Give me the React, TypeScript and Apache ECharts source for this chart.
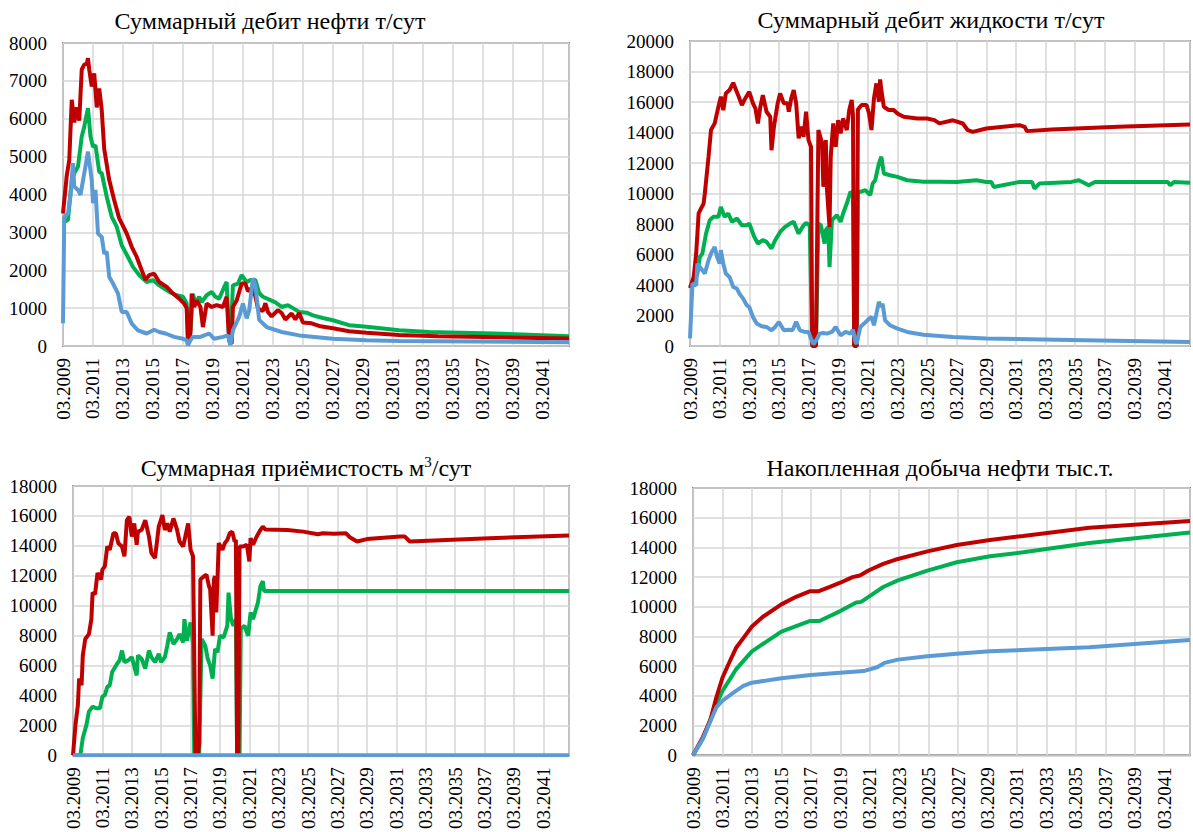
import React, { useEffect, useRef } from "react";
import * as echarts from "echarts";

// x = months since 03.2009 (monthly data up to 12.2042)
const X_MAX = 405;
const X_STEP = 24;

// ---------- Panel 1: Суммарный дебит нефти т/сут ----------
const oilRateRed: [number, number][] = [
  [0,3500],[3,4500],[5,4900],[7,6500],[9,5900],[11,6300],[13,5950],[15,7300],[17,7430],[19,7450],[20,7600],[21,7300],[23,6850],[25,7200],[27,6300],[29,6800],[31,6230],[33,5200],[37,4380],[41,3850],[45,3370],[51,2970],[55,2620],[59,2350],[63,2000],[66,1750],[69,1870],[73,1910],[77,1690],[83,1560],[88,1385],[93,1250],[97,1120],[99,1000],[100,150],[102,330],[103,1385],[105,1030],[107,1200],[110,1030],[112,500],[115,1120],[119,1030],[123,1080],[128,1030],[131,1300],[133,150],[135,60],[136,1030],[139,1200],[143,1650],[146,1650],[148,1450],[150,1500],[152,1550],[154,1300],[156,1000],[158,950],[160,930],[162,1130],[164,900],[167,780],[172,950],[175,870],[178,700],[183,860],[186,700],[189,870],[192,620],[199,600],[206,520],[216,470],[229,390],[243,350],[269,290],[300,260],[350,230],[405,200]
];
const oilRateGreen: [number, number][] = [
  [0,3250],[4,3330],[7,4380],[9,4560],[12,4740],[15,5530],[17,5790],[20,6280],[22,5530],[24,5260],[26,5300],[29,4600],[31,4560],[35,3940],[39,3410],[43,3150],[47,2660],[52,2350],[56,2090],[61,1870],[67,1690],[72,1740],[77,1600],[85,1430],[91,1340],[96,1300],[99,1120],[100,150],[102,400],[104,1370],[106,1120],[109,1300],[111,1160],[115,1340],[119,1430],[122,1300],[125,1250],[129,1560],[131,1690],[133,150],[134,50],[136,1600],[140,1650],[143,1870],[147,1690],[150,1740],[154,1740],[157,1400],[160,1300],[166,1210],[170,1150],[175,1030],[180,1080],[189,900],[195,880],[200,810],[208,740],[216,680],[229,550],[243,510],[269,415],[293,370],[345,330],[405,257]
];
const oilRateBlue: [number, number][] = [
  [0,600],[1,3400],[4,3500],[6,4000],[8,4830],[9,4210],[12,4120],[14,3990],[17,4560],[20,5130],[23,4380],[24,3770],[26,4120],[28,2970],[31,2880],[33,2440],[35,2490],[37,1830],[40,1650],[44,1390],[47,900],[51,900],[55,590],[60,415],[67,330],[73,430],[77,370],[82,330],[89,240],[96,190],[99,150],[100,20],[102,150],[104,240],[110,240],[117,330],[121,190],[128,240],[132,280],[134,20],[136,415],[141,770],[144,1120],[147,730],[149,940],[152,1790],[154,1600],[157,690],[163,500],[175,370],[189,280],[216,190],[243,150],[269,130],[405,100]
];

// ---------- Panel 2: Суммарный дебит жидкости т/сут ----------
const liquidRateRed: [number, number][] = [
  [0,3800],[3,4530],[5,6060],[7,8690],[9,9020],[11,9340],[12,10000],[15,12400],[17,14160],[20,14600],[23,15690],[25,16350],[27,15470],[29,16560],[32,16780],[35,17260],[39,16450],[42,15800],[44,16130],[48,16670],[51,15910],[53,15580],[55,14600],[57,15690],[59,16450],[62,15360],[65,15030],[66,12840],[68,14380],[71,15910],[73,16560],[76,15910],[79,15910],[80,15360],[82,16240],[84,16780],[86,15910],[88,13610],[90,14380],[92,13720],[94,15360],[96,13500],[98,13070],[99,0],[102,0],[104,14160],[107,13280],[108,10440],[110,13500],[111,10220],[113,7810],[114,12410],[116,14600],[118,13060],[120,14810],[122,13940],[124,14920],[127,14160],[129,15470],[131,16130],[132,15140],[133,0],[135,0],[136,15500],[139,15800],[143,15800],[145,15250],[147,14160],[149,16240],[151,17220],[153,16020],[154,17480],[155,16780],[157,15690],[161,15470],[165,15470],[168,15250],[173,15030],[184,14920],[192,14920],[198,14810],[202,14600],[213,14800],[221,14590],[225,14150],[229,14040],[240,14260],[267,14480],[271,14370],[273,14090],[293,14200],[347,14370],[405,14530]
];
const liquidRateGreen: [number, number][] = [
  [0,3870],[4,4310],[6,4750],[8,5840],[10,6060],[13,7370],[16,8250],[19,8470],[23,8470],[25,9120],[28,8470],[31,8690],[34,8140],[38,8360],[42,7920],[46,7920],[48,8030],[52,7160],[55,6720],[59,6940],[62,6830],[66,6390],[69,6940],[73,7480],[77,7810],[81,8030],[84,8140],[88,7370],[92,7920],[94,8070],[97,7920],[99,0],[102,0],[104,8030],[106,7920],[109,6720],[110,7590],[112,7800],[113,5190],[115,8250],[119,8580],[122,8140],[124,8690],[127,9340],[130,10110],[132,10000],[133,0],[135,0],[136,10110],[138,10110],[142,10220],[146,9890],[148,10660],[150,10870],[153,11970],[155,12410],[157,11310],[162,11200],[168,11090],[176,10870],[189,10770],[202,10770],[216,10760],[232,10870],[240,10760],[244,10760],[246,10430],[267,10760],[277,10760],[279,10330],[283,10650],[309,10760],[315,10870],[323,10540],[328,10760],[387,10760],[389,10540],[392,10760],[405,10700]
];
const liquidRateBlue: [number, number][] = [
  [0,500],[2,4090],[5,3980],[6,5400],[9,5080],[12,4750],[15,5620],[17,6060],[20,6500],[22,5840],[24,5400],[25,6280],[27,5400],[29,4750],[32,4530],[35,3870],[38,3760],[40,3440],[43,3110],[46,2670],[48,2560],[51,1900],[54,1470],[58,1290],[62,1250],[66,1030],[69,1250],[72,1580],[76,1030],[80,1070],[83,1030],[86,1580],[89,1030],[93,920],[96,920],[98,480],[100,110],[103,480],[105,810],[108,850],[111,810],[115,920],[118,1250],[122,700],[126,920],[130,810],[132,1070],[134,260],[135,150],[138,1250],[141,1470],[145,1790],[147,1900],[149,1360],[151,2120],[153,2890],[155,2560],[156,2780],[158,1680],[162,1360],[168,1140],[176,920],[189,740],[202,660],[213,590],[240,490],[320,375],[405,260]
];

// ---------- Panel 3: Суммарная приёмистость м3/сут ----------
const injectionRed: [number, number][] = [
  [0,0],[2,2030],[4,3360],[5,5120],[7,4680],[8,6670],[10,7770],[13,8100],[15,9100],[16,10870],[18,10760],[20,12190],[23,11750],[24,12410],[26,12630],[28,13960],[30,13740],[33,14840],[35,14840],[37,14180],[40,13960],[42,13300],[44,15720],[46,15940],[48,14620],[50,15500],[52,14070],[53,14950],[56,15060],[59,15720],[62,14620],[64,13520],[67,13180],[70,15280],[73,16060],[75,15060],[77,15500],[79,14950],[82,15830],[85,15060],[87,14290],[90,13960],[92,14730],[94,15500],[96,13740],[98,13300],[100,0],[102,0],[103,800],[104,11750],[107,11970],[109,12080],[111,11310],[112,11090],[114,7990],[115,11750],[116,11970],[117,9540],[119,14180],[122,13740],[124,14180],[126,14400],[128,14840],[130,14950],[132,14290],[133,14400],[134,0],[135,0],[136,13960],[139,13960],[142,14070],[144,12960],[145,14510],[147,14070],[150,14620],[153,15060],[155,15280],[157,15100],[175,15060],[188,14950],[200,14780],[204,14840],[213,14800],[223,14840],[226,14580],[232,14290],[240,14450],[267,14620],[271,14620],[275,14290],[340,14510],[405,14690]
];
const injectionGreen: [number, number][] = [
  [0,0],[6,0],[8,1150],[11,2030],[13,2920],[16,3250],[19,3140],[22,3140],[24,3910],[26,4020],[28,4570],[30,4680],[32,5570],[36,6120],[38,6340],[40,7000],[42,6230],[45,6340],[48,6560],[52,5340],[53,6670],[56,6450],[59,5790],[62,7000],[64,6560],[67,6230],[70,6780],[72,6230],[75,6560],[77,7330],[79,8220],[82,7440],[85,7770],[87,8100],[90,7550],[91,9100],[93,7660],[96,8880],[98,7500],[99,0],[103,0],[105,7770],[108,7330],[110,6450],[112,6010],[114,5120],[116,7110],[118,6890],[120,7990],[123,7880],[126,8660],[127,10870],[129,9100],[131,8660],[133,9100],[134,0],[136,0],[137,8440],[140,8660],[143,7990],[145,9540],[147,9100],[149,9650],[151,10200],[153,11310],[155,11640],[156,10980],[405,10980]
];
const injectionBlue: [number, number][] = [[0,0],[405,0]];

// ---------- Panel 4: Накопленная добыча нефти тыс.т. ----------
const cumOilRed: [number, number][] = [
  [0,0],[8,1220],[14,2330],[19,3890],[24,5220],[30,6330],[35,7220],[41,7890],[48,8670],[57,9330],[72,10160],[84,10670],[95,11040],[102,11040],[111,11330],[120,11620],[130,12000],[136,12110],[143,12440],[155,12890],[167,13220],[191,13730],[215,14160],[242,14500],[269,14770],[323,15330],[405,15770]
];
const cumOilGreen: [number, number][] = [
  [0,0],[8,1110],[19,3440],[24,4330],[30,5110],[35,5780],[48,7000],[72,8330],[90,8890],[95,9040],[103,9040],[120,9710],[133,10290],[137,10330],[147,10890],[155,11330],[167,11780],[191,12440],[215,13000],[242,13400],[269,13670],[323,14290],[405,15000]
];
const cumOilBlue: [number, number][] = [
  [0,0],[8,1110],[19,3220],[24,3670],[33,4220],[41,4670],[48,4890],[72,5180],[96,5400],[120,5560],[139,5670],[150,5930],[156,6220],[167,6440],[191,6670],[215,6840],[242,7000],[323,7270],[405,7770]
];

const titles = [
  "Суммарный дебит нефти т/сут",
  "Суммарный дебит жидкости т/сут",
  "Суммарная приёмистость м{sup|3}/сут",
  "Накопленная добыча нефти тыс.т.",
];
const yMax = [8000, 20000, 18000, 18000];
const yStep = [1000, 2000, 2000, 2000];

const RED = "#C00000";
const GREEN = "#00B050";
const BLUE = "#5B9BD5";
const FONT = "Liberation Serif";

export default function App() {
  const ref = useRef<HTMLDivElement>(null);
  useEffect(() => {
    if (!ref.current) return;
    const chart = echarts.init(ref.current, null, { renderer: "svg" });
    const grids = [
      { left: 63, top: 43, width: 506, height: 303 },
      { left: 690, top: 41, width: 500, height: 305 },
      { left: 73, top: 486, width: 496, height: 271 },
      { left: 693, top: 488, width: 497, height: 270 },
    ];
    const panels = [
      [oilRateGreen, oilRateRed, oilRateBlue],
      [liquidRateGreen, liquidRateRed, liquidRateBlue],
      [injectionGreen, injectionRed, injectionBlue],
      [cumOilGreen, cumOilRed, cumOilBlue],
    ];
    const colors = [GREEN, RED, BLUE];
    const titlePos = [
      { x: 265, y: 4 },
      { x: 926, y: 3 },
      { x: 301, y: 449 },
      { x: 935, y: 451 },
    ];
    const series: any[] = [];
    panels.forEach((arr, gi) => {
      arr.forEach((d, si) => {
        series.push({
          type: "line",
          xAxisIndex: gi,
          yAxisIndex: gi,
          data: d,
          symbol: "none",
          showSymbol: false,
          lineStyle: { color: colors[si], width: 4 },
          itemStyle: { color: colors[si] },
          z: 2 + si,
        });
      });
    });
    chart.setOption({
      animation: false,
      backgroundColor: "#ffffff",
      title: titles.map((t, i) => ({
        text: t,
        left: titlePos[i].x,
        top: titlePos[i].y,
        textAlign: "center",
        textStyle: {
          fontFamily: FONT,
          fontSize: 24,
          fontWeight: "normal",
          color: "#000",
          rich: {
            sup: { fontFamily: FONT, fontSize: 15, color: "#000", verticalAlign: "top", padding: [0, 0, 12, 0] },
          },
        },
      })),
      grid: grids.map((g) => ({
        ...g,
        show: true,
        borderColor: "#8a8a8a",
        borderWidth: 2,
        backgroundColor: "transparent",
      })),
      xAxis: grids.map((_, i) => ({
        type: "value",
        gridIndex: i,
        min: 0,
        max: X_MAX,
        interval: X_STEP,
        axisLine: { show: false },
        axisTick: { show: false },
        splitLine: { show: true, lineStyle: { color: "#d6d6d6", width: 1.5 } },
        axisLabel: {
          rotate: 90,
          margin: 12,
          fontFamily: FONT,
          fontSize: 19,
          color: "#000",
          showMaxLabel: false,
          formatter: (v: number) => (v % 24 === 0 ? "03." + (2009 + v / 12) : ""),
        },
      })),
      yAxis: grids.map((_, i) => ({
        type: "value",
        gridIndex: i,
        min: 0,
        max: yMax[i],
        interval: yStep[i],
        axisLine: { show: false },
        axisTick: { show: false },
        splitLine: { show: true, lineStyle: { color: "#d6d6d6", width: 1.5 } },
        axisLabel: {
          margin: 16,
          fontFamily: FONT,
          fontSize: 19,
          color: "#000",
          formatter: (v: number) => String(v),
        },
      })),
      series,
    });
    return () => chart.dispose();
  }, []);
  return (
    <div
      ref={ref}
      style={{ position: "fixed", left: 0, top: 0, width: 1193, height: 832, background: "#fff" }}
    />
  );
}
